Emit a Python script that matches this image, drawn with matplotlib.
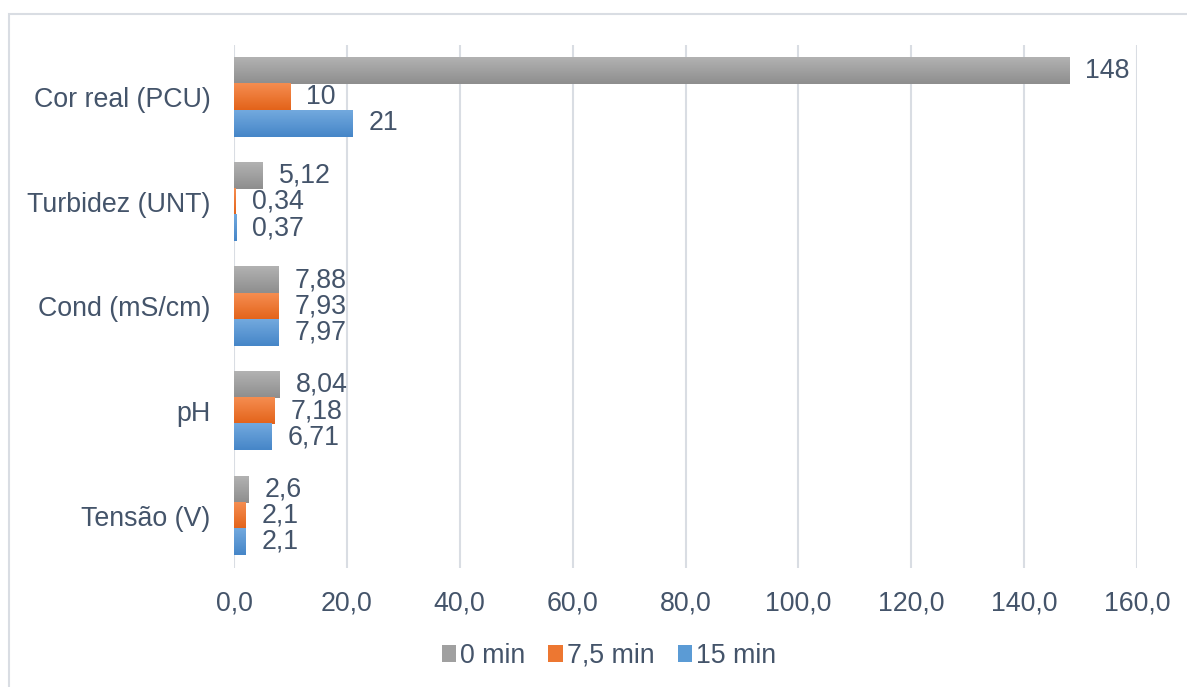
import numpy as np
import matplotlib.pyplot as plt
from matplotlib.patches import Patch, Rectangle

categories = ["Tensão (V)", "pH", "Cond (mS/cm)", "Turbidez (UNT)", "Cor real (PCU)"]
series_names = ["0 min", "7,5 min", "15 min"]
v_0min = [2.6, 8.04, 7.88, 5.12, 148]
v_7min = [2.1, 7.18, 7.93, 0.34, 10]
v_15min = [2.1, 6.71, 7.97, 0.37, 21]
lbl_0min = ["2,6", "8,04", "7,88", "5,12", "148"]
lbl_7min = ["2,1", "7,18", "7,93", "0,34", "10"]
lbl_15min = ["2,1", "6,71", "7,97", "0,37", "21"]
xticks = [0, 20, 40, 60, 80, 100, 120, 140, 160]
xtick_labels = ["0,0", "20,0", "40,0", "60,0", "80,0", "100,0", "120,0", "140,0", "160,0"]

# gradient top -> bottom for each series
grads = [("#b2b2b2", "#8e8e8e"), ("#f58d50", "#e3631a"), ("#72a9de", "#4686c8")]
mid = ["#a0a0a0", "#ed7731", "#5b9bd5"]
txt = "#44546a"
fs = 19.3

plt.rcParams["font.family"] = ["Liberation Sans", "DejaVu Sans"]

fig = plt.figure(figsize=(11.87, 6.87), dpi=100)
fig.patches.append(Rectangle((9 / 1187, -0.1), 1.2, 1 - 14 / 687 + 0.1,
                             transform=fig.transFigure, fill=False,
                             edgecolor="#d9dde3", lw=1.5))
ax = fig.add_axes([234 / 1187, 1 - 568 / 687, (1137 - 234) / 1187, (568 - 45) / 687])

h = 0.25
y = np.arange(len(categories))
offsets = [h, 0, -h]
values = [v_0min, v_7min, v_15min]
labels = [lbl_0min, lbl_7min, lbl_15min]

for vals, lbls, off, (c1, c2) in zip(values, labels, offsets, grads):
    cmap = plt.matplotlib.colors.LinearSegmentedColormap.from_list("g", [c2, c1])
    bars = ax.barh(y + off, vals, height=h, color="none", zorder=2)
    for b, v, s in zip(bars, vals, lbls):
        grad = np.linspace(0, 1, 50).reshape(-1, 1)
        x0, y0 = b.get_x(), b.get_y()
        ax.imshow(grad, cmap=cmap, origin="lower", aspect="auto", zorder=2,
                  extent=(x0, x0 + b.get_width(), y0, y0 + b.get_height()),
                  interpolation="bilinear")
        ax.annotate(s, (v, y0 + h / 2), xytext=(16, 0), textcoords="offset pixels",
                    va="center", ha="left", fontsize=fs, color=txt)

ax.set_xlim(0, 160)
ax.set_ylim(-0.5, len(categories) - 0.5)
ax.set_xticks(xticks)
ax.set_xticklabels(xtick_labels)
ax.set_yticks(y)
ax.set_yticklabels(categories)
ax.tick_params(axis="both", length=0, labelsize=fs, labelcolor=txt)
ax.tick_params(axis="y", pad=17)
ax.tick_params(axis="x", pad=16)
ax.grid(axis="x", color="#d9dde3", lw=1.5, zorder=0)
ax.set_axisbelow(True)
for sp in ax.spines.values():
    sp.set_visible(False)

handles = [Patch(facecolor=c, edgecolor="none") for c in mid]
fig.legend(handles, series_names, loc="center", bbox_to_anchor=(609 / 1187, 1 - 656 / 687),
           ncol=3, frameon=False, fontsize=fs, labelcolor=txt,
           handlelength=0.55, handleheight=0.55, handletextpad=0.15, columnspacing=0.85)

fig.savefig("out.png", dpi=100)
